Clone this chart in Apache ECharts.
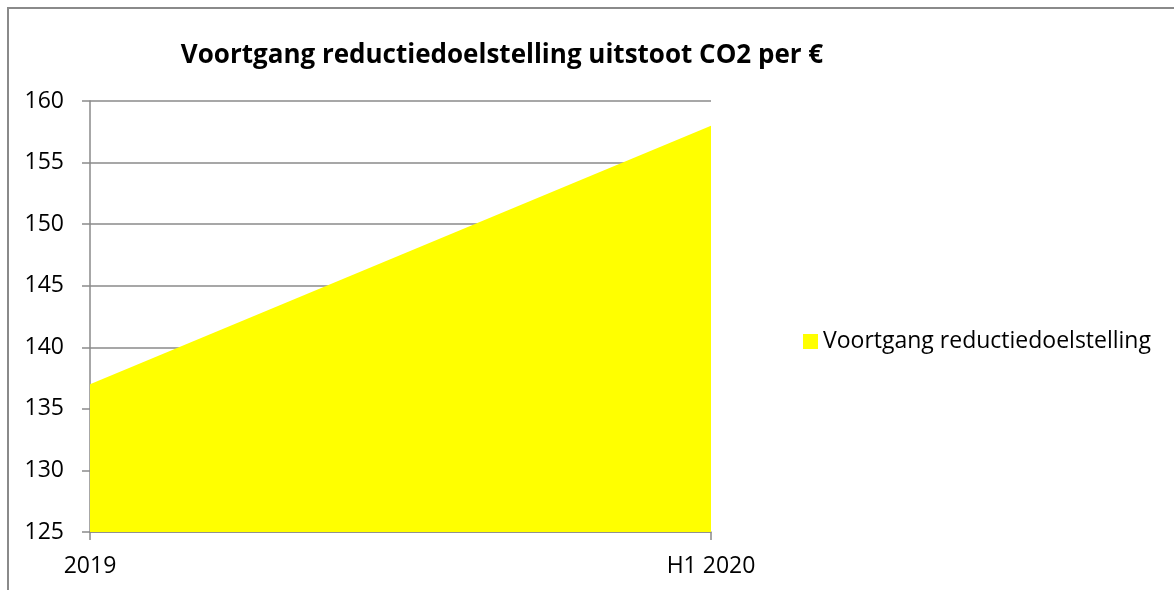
<!DOCTYPE html>
<html>
<head>
<meta charset="utf-8">
<script src="https://cdn.jsdelivr.net/npm/echarts@6/dist/echarts.min.js"></script>
<style>
  html, body { margin: 0; padding: 0; background: #fff; }
  #wrap { position: relative; width: 1174px; height: 590px; overflow: hidden; }
  #frame {
    position: absolute; left: 7px; top: 7px; width: 1300px; height: 700px;
    border-left: 2px solid #8a8a8a; border-top: 2px solid #8a8a8a;
  }
  #chart { position: absolute; left: 0; top: 0; width: 1174px; height: 590px; }
</style>
</head>
<body>
<div id="wrap">
  <div id="frame"></div>
  <div id="chart"></div>
</div>
<script>
const categories = ['2019', 'H1 2020'];
const progressValues = [137, 158];
const seriesName = 'Voortgang reductiedoelstelling';
const titleText = 'Voortgang reductiedoelstelling uitstoot CO2 per €';

const fontFamily = '"Open Sans", "Noto Sans", sans-serif';
const gridColor = '#8a8a8a';

const chart = echarts.init(document.getElementById('chart'));

chart.setOption({
  backgroundColor: 'transparent',
  animation: false,
  title: {
    text: titleText,
    left: 497,
    textAlign: 'center',
    top: 38,
    textStyle: {
      color: '#000',
      fontFamily,
      fontSize: 26,
      fontWeight: 'bold',
    },
  },
  legend: {
    orient: 'vertical',
    left: 798,
    top: 325,
    itemWidth: 15,
    itemHeight: 15,
    itemGap: 6,
    icon: 'rect',
    data: [seriesName],
    textStyle: {
      color: '#000',
      fontFamily,
      fontSize: 23,
    },
  },
  grid: {
    left: 90,
    right: 463,
    top: 101,
    bottom: 58,
  },
  xAxis: {
    type: 'category',
    data: categories,
    boundaryGap: false,
    axisLine: { lineStyle: { color: gridColor, width: 1.5 } },
    axisTick: { show: true, length: 8, lineStyle: { color: gridColor, width: 1.5 } },
    axisLabel: {
      color: '#000',
      fontFamily,
      fontSize: 23,
      margin: 23,
    },
    splitLine: { show: false },
  },
  yAxis: {
    type: 'value',
    min: 125,
    max: 160,
    interval: 5,
    axisLine: { show: true, lineStyle: { color: gridColor, width: 1.5 } },
    axisTick: { show: true, length: 8, lineStyle: { color: gridColor, width: 1.5 } },
    axisLabel: {
      color: '#000',
      fontFamily,
      fontSize: 23,
      margin: 26,
    },
    splitLine: { show: true, lineStyle: { color: gridColor, width: 1.5 } },
  },
  series: [
    {
      name: seriesName,
      type: 'line',
      data: progressValues,
      showSymbol: false,
      symbol: 'none',
      lineStyle: { width: 0 },
      itemStyle: { color: '#ffff00' },
      areaStyle: { color: '#ffff00', opacity: 1, origin: 'start' },
      z: 3,
    },
  ],
});
</script>
</body>
</html>
